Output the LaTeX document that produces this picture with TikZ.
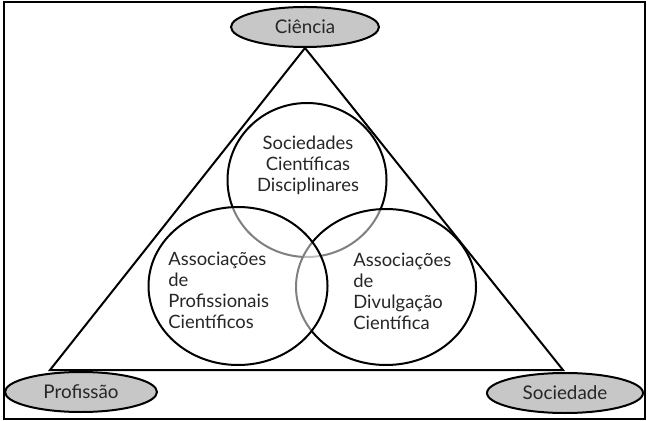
\documentclass[tikz,border=0pt]{standalone}
\usepackage{fontspec}
\setmainfont{Lato}
\usepackage{tikz}
\usetikzlibrary{shapes.geometric}

\begin{document}
\begin{tikzpicture}[
    x=0.5pt, y=-0.5pt,
    pole/.style={ellipse, draw=black, line width=1pt, fill=black!22, inner sep=0pt, text=black!85, font=\fontsize{9.4}{10.5}\selectfont},
    assoc/.style={ellipse, draw=black, line width=1pt, fill=white, fill opacity=0.5, inner sep=0pt},
    txt/.style={inner sep=0pt, text=black!85, font=\fontsize{9.2}{10.5}\selectfont},
  ]
  \useasboundingbox (0,0) rectangle (651,421);
  % Frame
  \draw[line width=1.1pt] (4,2) rectangle (645,419);

  % Poles
  \node[pole, minimum width=74pt, minimum height=20pt] (cien) at (305,27) {Ciência};
  \node[pole, minimum width=76pt, minimum height=20pt] (prof) at (81,392) {Profissão};
  \node[pole, minimum width=78pt, minimum height=20pt] (soc) at (565,393) {Sociedade};

  % Circles
  \node[assoc, minimum width=79.5pt, minimum height=77pt] (sdc) at (307,180) {};
  \node[assoc, minimum width=90pt, minimum height=78pt] (adc) at (386,287) {};
  \node[assoc, minimum width=89.5pt, minimum height=79pt] (apc) at (238,286) {};

  % Triangle
  \coordinate (pl) at (50,370);
  \coordinate (sl) at (563,370);
  \draw[line width=1pt] (cien.south) -- (pl) -- (sl) -- cycle;

  % Texts
  \node[txt, align=center] (sdct) at (308,165) {Sociedades\\Científicas\\Disciplinares};
  \node[txt, align=left, anchor=west] (apct) at (168,290) {Associações\\de\\Profissionais\\Científicos};
  \node[txt, align=left, anchor=west] (adct) at (353,291) {Associações\\de\\Divulgação\\Científica};
\end{tikzpicture}
\end{document}
